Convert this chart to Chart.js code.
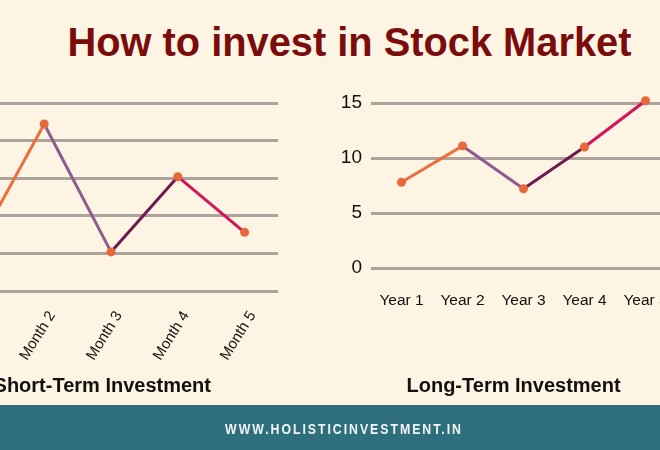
<!DOCTYPE html>
<html><head><meta charset="utf-8">
<script src="https://cdn.jsdelivr.net/npm/chart.js@4"></script>
<style>
html,body{margin:0;padding:0;}
body{width:660px;height:450px;overflow:hidden;position:relative;background:#fdf4e3;font-family:"Liberation Sans",Arial,sans-serif;}
#title{position:absolute;left:67.5px;top:23px;font-weight:bold;font-size:39.8px;line-height:1;color:#7b0c0c;white-space:nowrap;}
.sub{position:absolute;top:375px;font-weight:bold;font-size:20px;line-height:1;color:#111;white-space:nowrap;}
#footer{position:absolute;left:0;top:405px;width:660px;height:45px;background:#2e6f7e;}
#footText{position:absolute;left:163px;width:362px;top:16px;text-align:center;font-family:"Liberation Sans",sans-serif;font-weight:bold;font-size:15px;line-height:1;letter-spacing:2.4px;color:#f4f4f4;white-space:nowrap;transform:scaleX(0.82);transform-origin:center;}
canvas{position:absolute;}
</style>
</head><body>
<div id="title">How to invest in Stock Market</div>
<canvas id="left" width="360" height="300" style="left:-70px;top:80px;"></canvas>
<canvas id="right" width="345" height="243" style="left:342px;top:80px;"></canvas>
<div class="sub" style="left:-12px;width:223px;text-align:right;">Short-Term Investment</div>
<div class="sub" style="left:406.5px;">Long-Term Investment</div>
<div id="footer"><div id="footText">WWW.HOLISTICINVESTMENT.IN</div></div>
<script>
const shortLabels = ['Month 1','Month 2','Month 3','Month 4','Month 5'];
const shortValues = [6, 22.2, 5.2, 15.2, 7.8];
const shortTicks = [0, 5, 10, 15, 20, 25];

const longLabels = ['Year 1','Year 2','Year 3','Year 4','Year 5'];
const longValues = [7.8, 11.1, 7.2, 11.0, 15.2];
const longTicks = [0, 5, 10, 15];

const segmentColors = ['#e9703d', '#8d5b8e', '#6d1a4d', '#d5135a'];
const pointColor = '#e8683a';
const gridColor = '#aca49c';

function lineDataset(values){
  return {
    data: values,
    borderWidth: 3,
    borderColor: segmentColors[0],
    segment: { borderColor: ctx => segmentColors[ctx.p0DataIndex] },
    pointRadius: 4.5,
    pointHoverRadius: 4.5,
    pointBackgroundColor: pointColor,
    pointBorderWidth: 0,
    tension: 0,
    clip: false
  };
}

const common = {
  responsive: false,
  animation: false,
  events: [],
  plugins: { legend: { display: false }, tooltip: { enabled: false } }
};

new Chart(document.getElementById('left'), {
  type: 'line',
  data: { labels: shortLabels, datasets: [lineDataset(shortValues)] },
  options: Object.assign({}, common, {
    layout: { padding: { left: 14, right: 12, top: 23, bottom: 9 } },
    scales: {
      x: {
        offset: true,
        grid: { display: false, drawTicks: false },
        border: { display: false },
        ticks: { color: '#111', font: { family: 'Liberation Sans', size: 15 }, minRotation: 58, maxRotation: 58, padding: 17, labelOffset: 8, autoSkip: false },
        afterFit: s => { s.height = 80; s.paddingLeft = 0; s.paddingRight = 0; }
      },
      y: {
        min: shortTicks[0], max: shortTicks[shortTicks.length - 1],
        afterBuildTicks: s => { s.ticks = shortTicks.map(v => ({ value: v })); },
        grid: { color: gridColor, lineWidth: 3, drawTicks: false },
        border: { display: false },
        ticks: { display: false },
        afterFit: s => { s.width = 0; }
      }
    }
  })
});

new Chart(document.getElementById('right'), {
  type: 'line',
  data: { labels: longLabels, datasets: [lineDataset(longValues)] },
  options: Object.assign({}, common, {
    layout: { padding: { left: 0, right: 11, top: 23, bottom: 10 } },
    scales: {
      x: {
        offset: true,
        grid: { display: false, drawTicks: false },
        border: { display: false },
        ticks: { color: '#111', font: { family: 'Liberation Sans', size: 15.5 }, maxRotation: 0, padding: 23, autoSkip: false },
        afterFit: s => { s.height = 45; s.paddingLeft = 0; s.paddingRight = 0; }
      },
      y: {
        min: longTicks[0], max: longTicks[longTicks.length - 1],
        afterBuildTicks: s => { s.ticks = longTicks.map(v => ({ value: v })); },
        grid: { color: gridColor, lineWidth: 3, drawTicks: false },
        border: { display: false },
        ticks: { color: '#111', font: { family: 'Liberation Sans', size: 19 }, padding: 9 },
        afterFit: s => { s.width = 29; }
      }
    }
  })
});
</script>
</body></html>
